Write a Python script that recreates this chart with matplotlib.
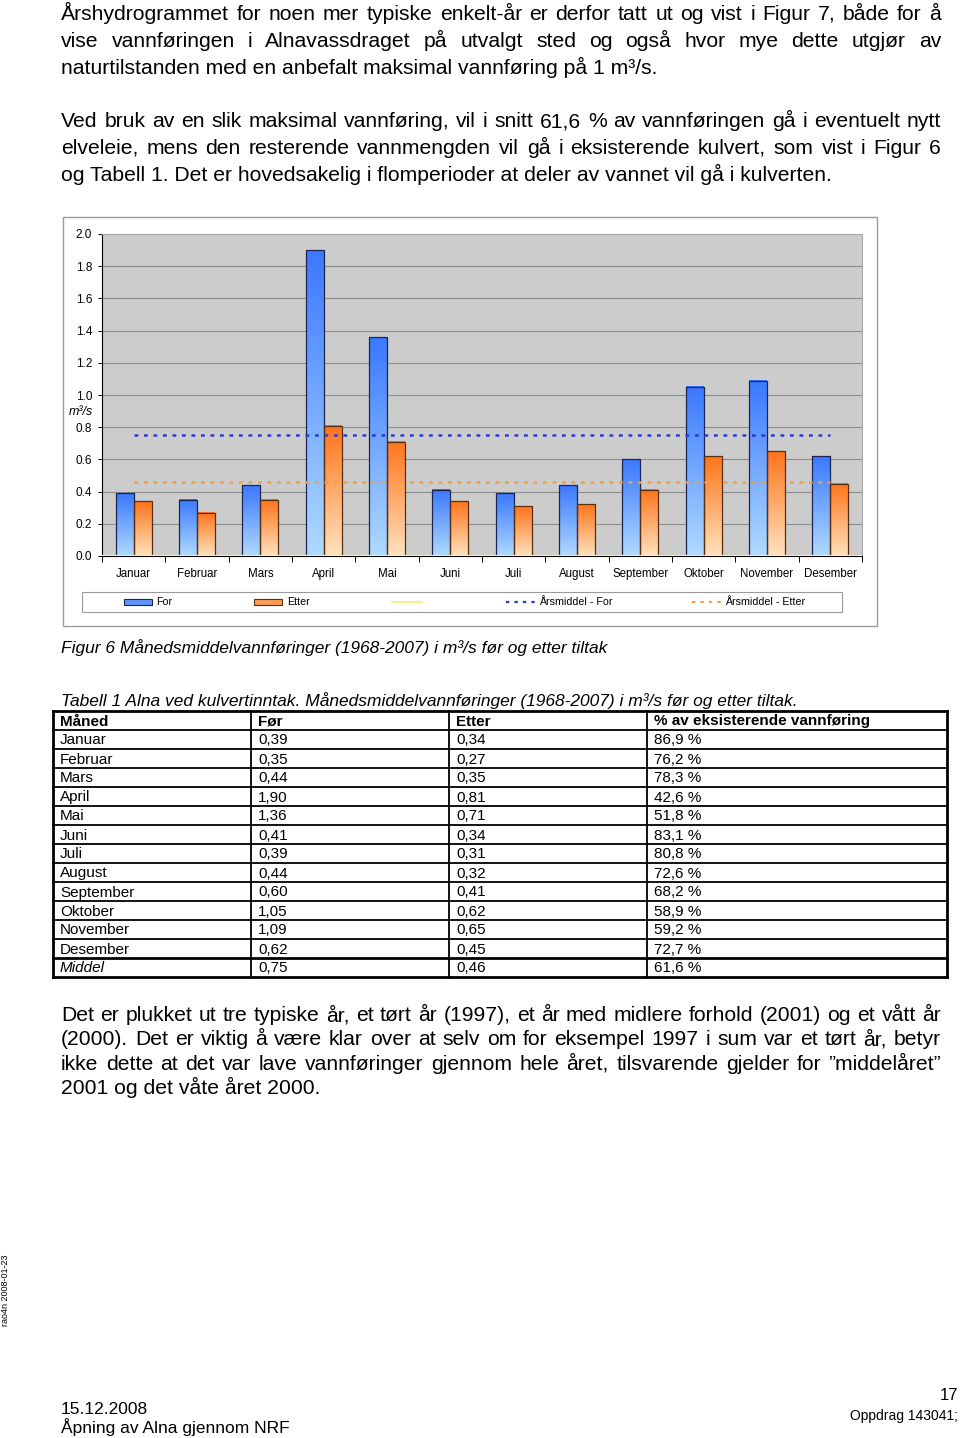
import matplotlib
matplotlib.use("Agg")
import matplotlib.pyplot as plt
import numpy as np
from matplotlib.colors import LinearSegmentedColormap
from matplotlib.patches import Rectangle
from matplotlib.lines import Line2D

plt.rcParams['font.family'] = ['Liberation Sans', 'DejaVu Sans']

# data from Tabell 1 / Figur 6
maaneder = ['Januar', 'Februar', 'Mars', 'April', 'Mai', 'Juni', 'Juli',
            'August', 'September', 'Oktober', 'November', 'Desember']
for_vals = [0.39, 0.35, 0.44, 1.90, 1.36, 0.41, 0.39, 0.44, 0.60, 1.05, 1.09, 0.62]
etter_vals = [0.34, 0.27, 0.35, 0.81, 0.71, 0.34, 0.31, 0.32, 0.41, 0.62, 0.65, 0.45]
pct_vals = [86.9, 76.2, 78.3, 42.6, 51.8, 83.1, 80.8, 72.6, 68.2, 58.9, 59.2, 72.7]
middel_for = 0.75
middel_etter = 0.46
middel_pct = 61.6
yticks = [0.0, 0.2, 0.4, 0.6, 0.8, 1.0, 1.2, 1.4, 1.6, 1.8, 2.0]

para1 = ["Årshydrogrammet for noen mer typiske enkelt-år er derfor tatt ut og vist i Figur 7, både for å",
         "vise vannføringen i Alnavassdraget på utvalgt sted og også hvor mye dette utgjør av",
         "naturtilstanden med en anbefalt maksimal vannføring på 1 m³/s."]
para2 = ["Ved bruk av en slik maksimal vannføring, vil i snitt 61,6 % av vannføringen gå i eventuelt nytt",
         "elveleie, mens den resterende vannmengden vil gå i eksisterende kulvert, som vist i Figur 6",
         "og Tabell 1. Det er hovedsakelig i flomperioder at deler av vannet vil gå i kulverten."]
para3 = ["Det er plukket ut tre typiske år, et tørt år (1997), et år med midlere forhold (2001) og et vått år",
         "(2000). Det er viktig å være klar over at selv om for eksempel 1997 i sum var et tørt år, betyr",
         "ikke dette at det var lave vannføringer gjennom hele året, tilsvarende gjelder for ”middelåret”",
         "2001 og det våte året 2000."]

fig = plt.figure(figsize=(9.6, 14.38), dpi=100)
page = fig.add_axes([0, 0, 1, 1])
page.set_xlim(0, 960)
page.set_ylim(1438, 0)
page.axis('off')
page.set_zorder(0)
renderer = fig.canvas.get_renderer()
BODY = 15.2


def justify(line, y, x0=61, x1=941, size=BODY):
    words = line.split(' ')
    arts = [page.text(0, y, w, fontsize=size, va='baseline', ha='left') for w in words]
    widths = [a.get_window_extent(renderer).width for a in arts]
    gap = (x1 - x0 - sum(widths)) / (len(words) - 1)
    x = x0
    for a, w in zip(arts, widths):
        a.set_x(x)
        x += w + gap


def paragraph(lines, y0, step):
    for k, line in enumerate(lines):
        y = y0 + k * step
        if k < len(lines) - 1:
            justify(line, y)
        else:
            page.text(61, y, line, fontsize=BODY, va='baseline')


paragraph(para1, 20, 27)
paragraph(para2, 127, 27)
paragraph(para3, 1021, 24.3)

# chart frame
page.add_patch(Rectangle((63, 217), 814, 409, facecolor='white', edgecolor='#9a9a9a', lw=1))

ax = fig.add_axes([102 / 960, 1 - 556 / 1438, 760 / 960, 322 / 1438])
ax.set_zorder(1)
ax.set_facecolor('#CCCCCC')

x = np.arange(len(maaneder))
bw = 0.284
grad = np.linspace(0, 1, 256).reshape(-1, 1)
cmap_blue = LinearSegmentedColormap.from_list('blaa', ['#B0DAFF', '#3A78FF'])
cmap_orange = LinearSegmentedColormap.from_list('oransje', ['#FFE2BE', '#FF741A'])
for i in range(len(maaneder)):
    ax.imshow(grad, extent=[x[i] - bw, x[i], 0, for_vals[i]], origin='lower',
              cmap=cmap_blue, aspect='auto', zorder=2)
    ax.imshow(grad, extent=[x[i], x[i] + bw, 0, etter_vals[i]], origin='lower',
              cmap=cmap_orange, aspect='auto', zorder=2)
ax.bar(x - bw / 2, for_vals, width=bw, facecolor='none', edgecolor='#1c2550', lw=0.9, zorder=3)
ax.bar(x + bw / 2, etter_vals, width=bw, facecolor='none', edgecolor='#5a2e10', lw=0.9, zorder=3)

ax.plot([x[0], x[-1]], [middel_for, middel_for], color='#2a3ccf', lw=1.8,
        ls=(0, (1.5, 2.3)), zorder=4)
ax.plot([x[0], x[-1]], [middel_etter, middel_etter], color='#f0a040', lw=1.8,
        ls=(0, (1.5, 2.3)), zorder=4)
ax.axhline(0, color='#f4f08a', lw=1.6, zorder=4)

ax.set_xlim(-0.5, 11.5)
ax.set_ylim(0, 2.0)
ax.set_yticks(yticks)
ax.set_yticklabels([f"{v:.1f}" for v in yticks], fontsize=8.5)
ax.tick_params(axis='y', length=3, width=0.7, pad=4)
ax.set_xticks(np.arange(-0.5, 12, 1))
ax.set_xticklabels([])
ax.tick_params(axis='x', which='major', length=4, width=0.7)
ax.set_xticks(x, minor=True)
ax.set_xticklabels(maaneder, minor=True, fontsize=8.3)
ax.tick_params(axis='x', which='minor', length=0, pad=9)
ax.grid(axis='y', color='#8c8c8c', lw=0.8)
ax.set_axisbelow(True)
for s in ['top', 'right']:
    ax.spines[s].set_color('#a8a8a8')
ax.spines['left'].set_linewidth(0.8)
ax.spines['bottom'].set_linewidth(0.8)

page.text(69, 412, "m³/s", fontsize=9, style='italic', va='center')

# legend
page.add_patch(Rectangle((82, 592), 760, 20, facecolor='white', edgecolor='#9a9a9a', lw=0.8))
ly = 602
page.add_patch(Rectangle((124, ly - 3), 28, 6, facecolor='#5f95ff', edgecolor='#1c2550', lw=0.8))
page.text(156, ly, "For", fontsize=7.7, va='center')
page.add_patch(Rectangle((254, ly - 3), 28, 6, facecolor='#ff9a55', edgecolor='#5a2e10', lw=0.8))
page.text(287, ly, "Etter", fontsize=7.7, va='center')
page.add_line(Line2D([392, 422], [ly, ly], color='#f4f08a', lw=1.4))
page.add_line(Line2D([506, 536], [ly, ly], color='#2a3ccf', lw=1.6, ls=(0, (1.5, 2.3))))
page.text(539, ly, "Årsmiddel - For", fontsize=7.7, va='center')
page.add_line(Line2D([692, 722], [ly, ly], color='#f0a040', lw=1.6, ls=(0, (1.5, 2.3))))
page.text(725, ly, "Årsmiddel - Etter", fontsize=7.7, va='center')

page.text(61, 653, "Figur 6 Månedsmiddelvannføringer (1968-2007) i m³/s før og etter tiltak",
          fontsize=12.5, style='italic', va='baseline')
page.text(61, 706, "Tabell 1 Alna ved kulvertinntak. Månedsmiddelvannføringer (1968-2007) i m³/s før og etter tiltak.",
          fontsize=12.5, style='italic', va='baseline')

# table
cols_x = [53, 251, 449, 647, 947]
top = 711
row_h = 19.0
n_rows = len(maaneder) + 2
bottom = top + n_rows * row_h
for k in range(n_rows + 1):
    y = top + k * row_h
    lw = 2.0 if k in (0, n_rows - 1, n_rows) else 1.3
    page.add_line(Line2D([cols_x[0], cols_x[-1]], [y, y], color='black', lw=lw))
for j, cx in enumerate(cols_x):
    lw = 2.0 if j in (0, len(cols_x) - 1) else 1.3
    page.add_line(Line2D([cx, cx], [top, bottom], color='black', lw=lw))

def fmt(v):
    return f"{v:.2f}".replace('.', ',')

rows = [["Måned", "Før", "Etter", "% av eksisterende vannføring"]]
for m, f, e, p in zip(maaneder, for_vals, etter_vals, pct_vals):
    rows.append([m, fmt(f), fmt(e), f"{p:.1f} %".replace('.', ',')])
rows.append(["Middel", fmt(middel_for), fmt(middel_etter), f"{middel_pct:.1f} %".replace('.', ',')])
for k, row in enumerate(rows):
    y = top + (k + 0.5) * row_h
    for j, cell in enumerate(row):
        kw = {}
        if k == 0:
            kw['fontweight'] = 'bold'
        if k == n_rows - 1 and j == 0:
            kw['style'] = 'italic'
        page.text(cols_x[j] + 7, y + 1, cell, fontsize=11, va='center', **kw)

# footer
page.text(6, 1290, "rao4n 2008-01-23", fontsize=6.5, rotation=90, ha='center', va='center')
page.text(61, 1414, "15.12.2008", fontsize=12.5, va='baseline')
page.text(61, 1433, "Åpning av Alna gjennom NRF", fontsize=12.5, va='baseline')
page.text(958, 1400, "17", fontsize=12, ha='right', va='baseline')
page.text(958, 1420, "Oppdrag 143041;", fontsize=10, ha='right', va='baseline')

fig.savefig("out.png", dpi=100)
